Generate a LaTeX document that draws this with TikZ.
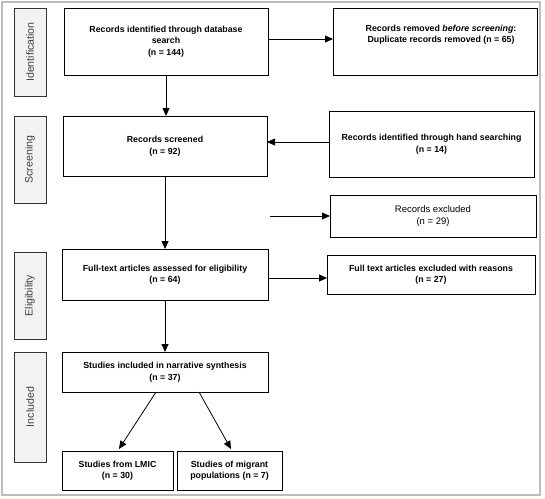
\documentclass[tikz,border=0pt]{standalone}
\usepackage{fontspec}
\setmainfont{Liberation Sans}
\usetikzlibrary{arrows.meta,calc}
\definecolor{framegray}{HTML}{BDBDBD}
\definecolor{sidefill}{HTML}{F2F2F2}
\definecolor{sidetext}{HTML}{404040}
\begin{document}
\begin{tikzpicture}[x=1pt,y=-1pt,
 box/.style={draw=black,line width=0.8pt,inner sep=2pt,outer sep=0pt,align=center,font=\fontsize{8.8}{11.5}\selectfont\bfseries},
 plainbox/.style={box,font=\fontsize{9.5}{11.8}\selectfont},
 txt/.style={inner sep=0pt,align=center,font=\fontsize{8.8}{11}\selectfont\bfseries},
 side/.style={draw=black!80,fill=sidefill,line width=0.8pt,rotate=90,inner sep=0pt,outer sep=0pt,text=sidetext,font=\fontsize{10.6}{12}\selectfont,minimum height=32pt},
 arr/.style={-{Triangle[length=8pt,width=7pt]},line width=0.8pt}]
\useasboundingbox (0,0) rectangle (545,498);
\draw[framegray,line width=1.4pt] (2,2) rectangle (540,495);

% side labels
\node[side,minimum width=88pt] (sid) at (30,52) {Identification};
\node[side,minimum width=87pt] (sscr) at (30,159.5) {Screening};
\node[side,minimum width=87pt] (sel) at (30,295.5) {Eligibility};
\node[side,minimum width=110pt] (sinc) at (30,407) {Included};

% main column
\node[box,minimum width=204pt,minimum height=67pt] (b1) at (166,41.5) {Records identified through database\\search\\(n = 144)};
\node[box,minimum width=204pt,minimum height=60pt] (b2) at (165,146) {Records screened\\(n = 92)};
\node[box,minimum width=206pt,minimum height=51pt] (b3) at (165,274.5) {Full-text articles assessed for eligibility\\(n = 64)};
\node[box,minimum width=206pt,minimum height=40pt] (b4) at (165,372) {Studies included in narrative synthesis\\(n = 37)};
\node[box,minimum width=111pt,minimum height=39pt] (b5) at (117.5,470.5) {Studies from LMIC\\(n = 30)};
\node[box,minimum width=105pt,minimum height=39pt] (b6) at (229.5,470.5) {Studies of migrant\\populations (n = 7)};

% right column
\node[box,minimum width=204pt,minimum height=67pt] (r1) at (435,41.5) {};
\node[txt] (r1t) at (441,35) {Records removed \textit{before screening}:\\Duplicate records removed (n = 65)};
\node[box,minimum width=205pt,minimum height=66pt] (r2) at (431.5,144) {Records identified through hand searching\\(n = 14)};
\node[plainbox,minimum width=206pt,minimum height=42pt] (r3) at (433,216) {Records excluded\\(n = 29)};
\node[box,minimum width=208pt,minimum height=39pt] (r4) at (431,274.5) {Full text articles excluded with reasons\\(n = 27)};

% connectors
\coordinate (b1a) at ([yshift=2.5pt]b1.east);
\draw[arr] (b1a) -- (b1a -| r1.west);
\coordinate (r2a) at ([yshift=2pt]r2.west);
\draw[arr] (r2a) -- (r2a -| b2.east);
\coordinate (ex) at (270,216);
\draw[arr] (ex) -- (r3.west);
\coordinate (b3a) at ([yshift=-3.5pt]b3.east);
\draw[arr] (b3a) -- (b3a -| r4.west);

\draw[arr] (b1.south) -- (b1.south |- b2.north);
\draw[arr] (b2.south) -- (b3.north);
\draw[arr] (b3.south) -- (b4.north);
\draw[arr] ([xshift=-9pt]b4.south) -- ([xshift=1.5pt,yshift=2pt]b5.north);
\draw[arr] ([xshift=34pt]b4.south) -- ([xshift=1.5pt,yshift=2pt]b6.north);
\end{tikzpicture}
\end{document}
